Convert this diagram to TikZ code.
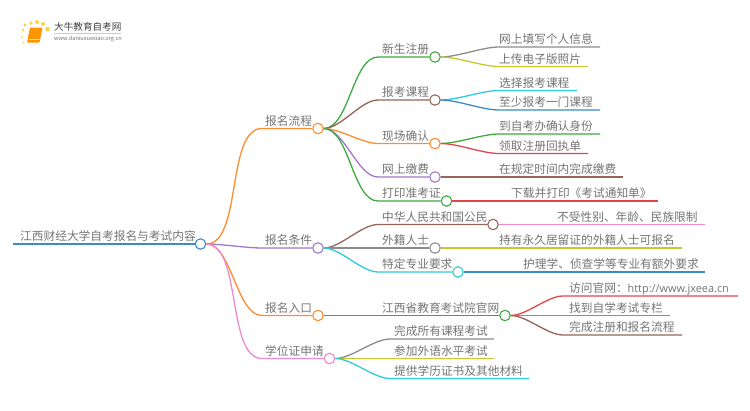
\documentclass[tikz,border=0pt]{standalone}
\usepackage{fontspec}
\setmainfont{Noto Sans CJK SC}
\newfontfamily\latinfont{Open Sans}
\usepackage{xcolor}
\definecolor{cblue}{HTML}{3A8CC6}
\definecolor{corange}{HTML}{FF8C2E}
\definecolor{cgreen}{HTML}{3FA83F}
\definecolor{cred}{HTML}{E0474C}
\definecolor{cpurple}{HTML}{A078CC}
\definecolor{cbrown}{HTML}{96645A}
\definecolor{cpink}{HTML}{EC8ACF}
\definecolor{cgray}{HTML}{8C8C8C}
\definecolor{colive}{HTML}{C8C82E}
\definecolor{ccyan}{HTML}{2CCBDC}
\definecolor{ctext}{HTML}{747474}
\tikzset{
  hub/.style={circle,draw,fill=white,line width=1.1pt,minimum size=10.5pt,inner sep=0pt},
  lab/.style={anchor=south west,inner sep=0pt,text=ctext,font=\fontsize{11.7}{12}\selectfont,text height=10pt,text depth=2.8pt},
  branch/.style={line width=1.3pt,out=0,in=180,looseness=0.72},
}
\begin{document}
\begin{tikzpicture}[x=1pt,y=-1pt]
\useasboundingbox (0,0) rectangle (750,410);
% logo
\foreach \a/\b/\r in {25/25/1.7,31/23/1.9,37/22/2,43/24/2,47.5/29/2.3,23/30/1.4,22/37/1.1,23.5/42.5/1}
  \fill[orange!45!yellow,opacity=.75] (\a,\b) circle (\r);
\fill[orange!85!yellow,rounded corners=1pt] (30,27.5)--(42.5,27.5)--(39.5,42.5)--(27,42.5)--cycle;
\draw[orange!25,line width=.7pt] (28.5,39.5)--(39.8,39.5);
\node[anchor=west,inner sep=0pt,text=black!75,font=\fontsize{9.6}{10}\selectfont] (logo) at (54,27) {大牛教育自考网};
\node[anchor=west,inner sep=0pt,text=black!55,font=\fontsize{5.6}{6}\selectfont] (url) at (54,38.8) {www.daniuxuexiao.org.cn};
\draw[black!20,line width=.5pt] (54,33.2)--(121,33.2);
% hubs
\node[hub,draw=cblue] (root) at (200.5,244) {};
\node[hub,draw=corange] (flow) at (318,128.5) {};
\node[hub,draw=cpurple] (cond) at (318,248) {};
\node[hub,draw=corange] (entry) at (318,315.5) {};
\node[hub,draw=cpink] (degree) at (329.5,358.5) {};
\node[hub,draw=cgreen] (reg) at (435,57) {};
\node[hub,draw=cbrown] (course) at (435,100) {};
\node[hub,draw=corange] (confirm) at (435,143.5) {};
\node[hub,draw=cpurple] (pay) at (435,177) {};
\node[hub,draw=cgreen] (ticket) at (446.5,201) {};
\node[hub,draw=cbrown] (citizen) at (493,224.5) {};
\node[hub,draw=cgray] (foreign) at (435,248) {};
\node[hub,draw=ccyan] (special) at (458,272) {};
\node[hub,draw=cgreen] (office) at (505,315.5) {};
% bends of the second level
\coordinate (bflow) at (262,128.5);
\coordinate (bcond) at (262,248);
\coordinate (bentry) at (262,315.5);
\coordinate (bdegree) at (262,358.5);
\coordinate (breg) at (378,57);
\coordinate (bcourse) at (378,100);
\coordinate (bconfirm) at (378,143.5);
\coordinate (bpay) at (378,177);
\coordinate (bticket) at (378,201);
\coordinate (bcitizen) at (378,224.5);
\coordinate (bspecial) at (378,272);
% trunk and branches
\coordinate (start) at (13,244);
\draw[line width=1.6pt,cblue] (start) -- (root.west);
\draw[branch,corange] (root.east) to (bflow) -- (flow.west);
\draw[branch,cpurple] (root.east) to (bcond) -- (cond.west);
\draw[branch,corange] (root.east) to (bentry) -- (entry.west);
\draw[branch,cpink] (root.east) to (bdegree) -- (degree.west);
\draw[branch,cgreen] (flow.east) to (breg) -- (reg.west);
\draw[branch,cbrown] (flow.east) to (bcourse) -- (course.west);
\draw[branch,corange] (flow.east) to (bconfirm) -- (confirm.west);
\draw[branch,cpurple] (flow.east) to (bpay) -- (pay.west);
\draw[branch,cgreen] (flow.east) to (bticket) -- (ticket.west);
\draw[branch,cbrown] (cond.east) to (bcitizen) -- (citizen.west);
\draw[branch,cgray] (cond.east) -- (foreign.west);
\draw[branch,ccyan] (cond.east) to (bspecial) -- (special.west);
\draw[branch,cgreen] (entry.east) -- (office.west);
% leaves
\draw[branch,cgray] (reg.east) to (499,47) -- (600,47);
\draw[branch,colive] (reg.east) to (499,66.5) -- (588,66.5);
\draw[branch,ccyan] (course.east) to (499,90.5) -- (577,90.5);
\draw[branch,cblue] (course.east) to (499,110) -- (600,110);
\draw[branch,cgreen] (confirm.east) to (499,134) -- (600,134);
\draw[branch,cred] (confirm.east) to (499,153.5) -- (588,153.5);
\draw[branch,cbrown] (pay.east) -- (623,177);
\draw[branch,cred] (ticket.east) -- (658,201);
\draw[branch,cpink] (citizen.east) -- (705,224.5);
\draw[branch,colive] (foreign.east) -- (682,248);
\draw[branch,cblue] (special.east) -- (705,272);
\draw[branch,cred] (office.east) to (563,296) -- (738,296);
\draw[branch,cpurple] (office.east) -- (670,315.5);
\draw[branch,cbrown] (office.east) to (563,335) -- (682,335);
\draw[branch,cgray] (degree.east) to (390,339) -- (494,339);
\draw[branch,colive] (degree.east) -- (494,358.5);
\draw[branch,ccyan] (degree.east) to (390,378.5) -- (529,378.5);
% labels
\node[lab] (troot) at (20,243) {江西财经大学自考报名与考试内容};
\node[lab] (tflow) at (265,128) {报名流程};
\node[lab] (tcond) at (265,247.5) {报名条件};
\node[lab] (tentry) at (265,315) {报名入口};
\node[lab] (tdegree) at (265,358) {学位证申请};
\node[lab] (treg) at (382,56.5) {新生注册};
\node[lab] (tcourse) at (382,99.5) {报考课程};
\node[lab] (tconfirm) at (382,143) {现场确认};
\node[lab] (tpay) at (382,176.5) {网上缴费};
\node[lab] (tticket) at (382,200.5) {打印准考证};
\node[lab] (tcitizen) at (382,224) {中华人民共和国公民};
\node[lab] (tforeign) at (382,247.5) {外籍人士};
\node[lab] (tspecial) at (382,271.5) {特定专业要求};
\node[lab] (toffice) at (382,315) {江西省教育考试院官网};
\node[lab] at (499,46.5) {网上填写个人信息};
\node[lab] at (499,66) {上传电子版照片};
\node[lab] at (499,90) {选择报考课程};
\node[lab] at (499,109.5) {至少报考一门课程};
\node[lab] at (499,133.5) {到自考办确认身份};
\node[lab] at (499,153) {领取注册回执单};
\node[lab] at (499,176.5) {在规定时间内完成缴费};
\node[lab] at (511,200.5) {下载并打印《考试通知单》};
\node[lab] at (557,224) {不受性别、年龄、民族限制};
\node[lab] at (499,247.5) {持有永久居留证的外籍人士可报名};
\node[lab] at (523,271.5) {护理学、侦查学等专业有额外要求};
\node[lab] at (569,295.5) {访问官网：{\latinfont\fontsize{10.9}{12}\selectfont http://www.jxeea.cn}};
\node[lab] at (569,315) {找到自学考试专栏};
\node[lab] at (569,334.5) {完成注册和报名流程};
\node[lab] at (394,338.5) {完成所有课程考试};
\node[lab] at (394,358) {参加外语水平考试};
\node[lab] at (394,378) {提供学历证书及其他材料};
\end{tikzpicture}
\end{document}
